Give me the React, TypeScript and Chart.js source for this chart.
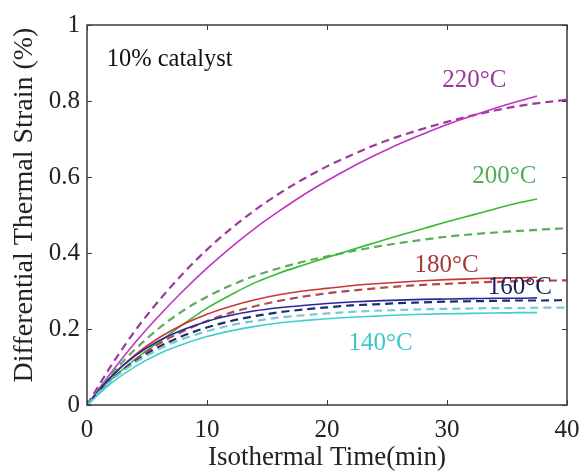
import { useEffect, useRef } from "react";
import { Chart, registerables } from "chart.js";

Chart.register(...registerables);

// ---- data ----
const timeSolid = [0, 2, 4, 6, 8, 10, 12, 14, 16, 18, 20, 22, 24, 26, 28, 30, 32, 34, 36, 37.5];
const timeDashed = [0, 2, 4, 6, 8, 10, 12, 14, 16, 18, 20, 22, 24, 26, 28, 30, 32, 34, 36, 38, 40];

const solid220 = [0, 0.085, 0.164, 0.235, 0.3, 0.36, 0.415, 0.465, 0.51, 0.552, 0.59, 0.625, 0.657, 0.687, 0.713, 0.738, 0.76, 0.781, 0.8, 0.813];
const dashed220 = [0, 0.103, 0.195, 0.275, 0.346, 0.409, 0.464, 0.513, 0.556, 0.594, 0.628, 0.657, 0.684, 0.707, 0.727, 0.745, 0.761, 0.775, 0.787, 0.796, 0.803];
const solid200 = [0, 0.066, 0.12, 0.166, 0.212, 0.255, 0.29, 0.322, 0.347, 0.368, 0.388, 0.408, 0.427, 0.446, 0.464, 0.482, 0.499, 0.516, 0.532, 0.542];
const dashed200 = [0, 0.08, 0.146, 0.202, 0.248, 0.285, 0.315, 0.34, 0.36, 0.377, 0.391, 0.404, 0.416, 0.426, 0.435, 0.443, 0.449, 0.454, 0.458, 0.462, 0.465];
const solid180 = [0, 0.074, 0.132, 0.177, 0.212, 0.239, 0.26, 0.277, 0.29, 0.3, 0.307, 0.314, 0.319, 0.323, 0.327, 0.33, 0.332, 0.334, 0.335, 0.336];
const dashed180 = [0, 0.066, 0.118, 0.161, 0.194, 0.221, 0.243, 0.26, 0.274, 0.285, 0.294, 0.301, 0.307, 0.312, 0.316, 0.319, 0.322, 0.324, 0.326, 0.327, 0.328];
const solid160 = [0, 0.074, 0.129, 0.169, 0.198, 0.22, 0.236, 0.248, 0.256, 0.262, 0.267, 0.271, 0.274, 0.276, 0.278, 0.279, 0.28, 0.281, 0.281, 0.282];
const dashed160 = [0, 0.065, 0.114, 0.153, 0.182, 0.204, 0.221, 0.234, 0.244, 0.251, 0.257, 0.262, 0.265, 0.268, 0.27, 0.272, 0.273, 0.274, 0.275, 0.275, 0.276];
const solid140 = [0, 0.057, 0.101, 0.135, 0.16, 0.18, 0.195, 0.207, 0.216, 0.222, 0.227, 0.231, 0.234, 0.237, 0.239, 0.24, 0.241, 0.242, 0.243, 0.243];
const dashed140 = [0, 0.064, 0.111, 0.147, 0.174, 0.194, 0.21, 0.221, 0.23, 0.236, 0.241, 0.245, 0.248, 0.25, 0.252, 0.253, 0.254, 0.255, 0.255, 0.256, 0.256];

const xTickValues = [0, 10, 20, 30, 40];
const yTickValues = [0, 0.2, 0.4, 0.6, 0.8, 1];

const curveLabels = ["220°C", "200°C", "180°C", "160°C", "140°C"];
const curveLabelX = [29.6, 32.1, 27.3, 33.4, 21.8];
const curveLabelY = [0.853, 0.601, 0.368, 0.31, 0.162];
const curveLabelColors = ["#9b389b", "#55ad55", "#a23a3a", "#1c1c5a", "#3cc6c6"];

const noteText = "10% catalyst";
const noteX = 1.64;
const noteY = 0.908;

const xTitle = "Isothermal Time(min)";
const yTitle = "Differential Thermal Strain (%)";

const SERIF = '"Liberation Serif", "Times New Roman", "DejaVu Serif", serif';

function pts(xs: number[], ys: number[]) {
  return xs.map((x, i) => ({ x, y: ys[i] }));
}

const boxPlugin = {
  id: "boxPlugin",
  afterDatasetsDraw(chart: any) {
    const { ctx, chartArea, scales } = chart;
    const { left, right, top, bottom } = chartArea;
    const xs = scales.x;
    const ys = scales.y;
    ctx.save();
    // curve labels
    ctx.font = `25px ${SERIF}`;
    ctx.textAlign = "left";
    ctx.textBaseline = "middle";
    curveLabels.forEach((t, i) => {
      ctx.fillStyle = curveLabelColors[i];
      ctx.fillText(t, xs.getPixelForValue(curveLabelX[i]), ys.getPixelForValue(curveLabelY[i]));
    });
    ctx.fillStyle = "#111";
    ctx.font = `24.5px ${SERIF}`;
    ctx.fillText(noteText, xs.getPixelForValue(noteX), ys.getPixelForValue(noteY));

    // y title (drawn manually, slightly above centre as in reference)
    ctx.save();
    ctx.translate(25, 205);
    ctx.rotate(-Math.PI / 2);
    ctx.textAlign = "center";
    ctx.textBaseline = "middle";
    ctx.fillStyle = "#222";
    ctx.font = `28px ${SERIF}`;
    ctx.fillText(yTitle, 0, 0);
    ctx.restore();

    // box
    ctx.strokeStyle = "#3a3a3a";
    ctx.lineWidth = 1.5;
    ctx.strokeRect(left, top, right - left, bottom - top);
    // inward ticks
    ctx.lineWidth = 1;
    const tl = 5;
    ctx.beginPath();
    xTickValues.forEach((v) => {
      const px = Math.round(xs.getPixelForValue(v)) + 0.5;
      ctx.moveTo(px, bottom);
      ctx.lineTo(px, bottom - tl);
      ctx.moveTo(px, top);
      ctx.lineTo(px, top + tl);
    });
    yTickValues.forEach((v) => {
      const py = Math.round(ys.getPixelForValue(v)) + 0.5;
      ctx.moveTo(left, py);
      ctx.lineTo(left + tl, py);
      ctx.moveTo(right, py);
      ctx.lineTo(right - tl, py);
    });
    ctx.stroke();
    ctx.restore();
  },
};

export default function App() {
  const ref = useRef<HTMLCanvasElement | null>(null);

  useEffect(() => {
    if (!ref.current) return;
    const solid = (data: any, color: string) => ({
      data,
      borderColor: color,
      borderWidth: 1.6,
      pointRadius: 0,
      fill: false,
      cubicInterpolationMode: "monotone" as const,
    });
    const dashed = (data: any, color: string) => ({
      data,
      borderColor: color,
      borderWidth: 2.2,
      borderDash: [8, 5],
      pointRadius: 0,
      fill: false,
      cubicInterpolationMode: "monotone" as const,
    });
    const chart = new Chart(ref.current, {
      type: "line",
      data: {
        datasets: [
          solid(pts(timeSolid, solid140), "#3fd0d0"),
          dashed(pts(timeDashed, dashed140), "#7cc8d2"),
          solid(pts(timeSolid, solid160), "#2626a2"),
          dashed(pts(timeDashed, dashed160), "#1c2c6c"),
          solid(pts(timeSolid, solid180), "#cc3535"),
          dashed(pts(timeDashed, dashed180), "#b04848"),
          solid(pts(timeSolid, solid200), "#35bb35"),
          dashed(pts(timeDashed, dashed200), "#5aae5a"),
          solid(pts(timeSolid, solid220), "#c035c0"),
          dashed(pts(timeDashed, dashed220), "#9a3a9a"),
        ],
      },
      options: {
        animation: false,
        responsive: false,
        devicePixelRatio: 1,
        layout: { padding: { top: 25, right: 14, left: 0, bottom: 0 } },
        plugins: { legend: { display: false }, tooltip: { enabled: false } },
        scales: {
          x: {
            type: "linear",
            min: 0,
            max: 40,
            afterBuildTicks: (s: any) => {
              s.ticks = xTickValues.map((v) => ({ value: v }));
            },
            afterFit: (s: any) => {
              s.height = 69;
              s.paddingLeft = 0;
              s.paddingRight = 0;
            },
            grid: { display: false, drawTicks: false },
            border: { display: false },
            ticks: {
              color: "#222",
              padding: 10,
              font: { family: SERIF, size: 25 },
              maxRotation: 0,
              callback: (v: any) => String(v),
            },
            title: {
              display: true,
              text: xTitle,
              color: "#222",
              font: { family: SERIF, size: 27 },
              padding: { top: 0, bottom: 0 },
            },
          },
          y: {
            type: "linear",
            min: 0,
            max: 1,
            afterBuildTicks: (s: any) => {
              s.ticks = yTickValues.map((v) => ({ value: v }));
            },
            afterFit: (s: any) => {
              s.width = 87;
              s.paddingTop = 0;
              s.paddingBottom = 0;
            },
            grid: { display: false, drawTicks: false },
            border: { display: false },
            ticks: {
              color: "#222",
              padding: 7,
              font: { family: SERIF, size: 25 },
              callback: (v: any) => String(Math.round(Number(v) * 10) / 10),
            },
            title: { display: false },
          },
        },
      },
      plugins: [boxPlugin],
    });
    return () => chart.destroy();
  }, []);

  return (
    <div style={{ position: "fixed", left: 0, top: 0, width: 581, height: 474, background: "#fff" }}>
      <canvas ref={ref} width={581} height={474} style={{ width: 581, height: 474, display: "block" }} />
    </div>
  );
}
